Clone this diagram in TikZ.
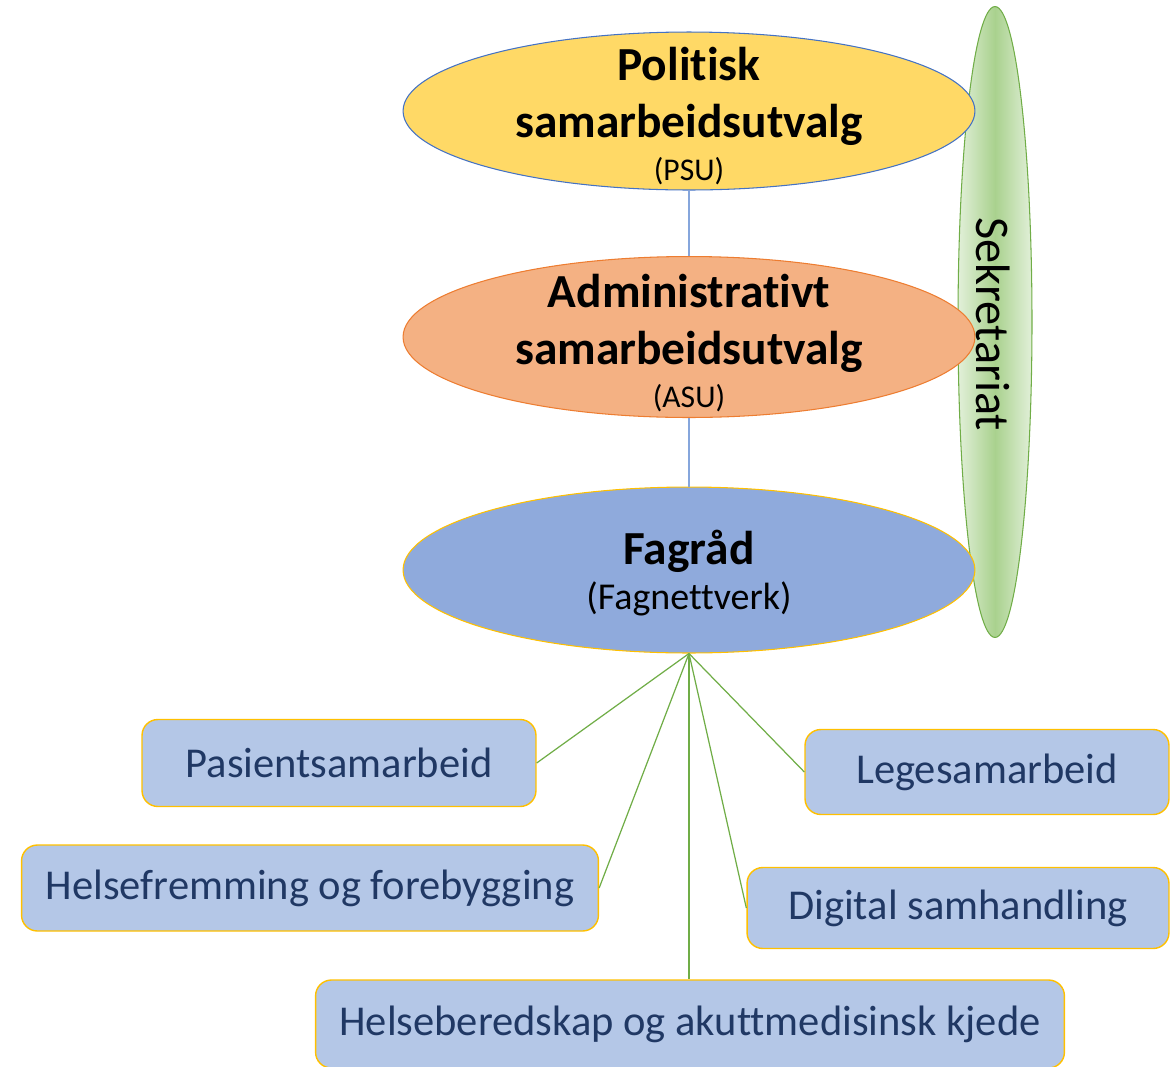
\documentclass[tikz,border=0pt]{standalone}
\usepackage{fontspec}
\setmainfont{Carlito}[Ligatures=NoCommon]
\usetikzlibrary{shapes.geometric}
\definecolor{psuyellow}{HTML}{FFD966}
\definecolor{psuline}{HTML}{4472C4}
\definecolor{linkblue}{HTML}{86A6DC}
\definecolor{asuorange}{HTML}{F4B183}
\definecolor{asuline}{HTML}{ED7D31}
\definecolor{fagblue}{HTML}{8FAADC}
\definecolor{goldline}{HTML}{FFC000}
\definecolor{boxblue}{HTML}{B4C7E7}
\definecolor{boxtext}{HTML}{203864}
\definecolor{sekgreen}{HTML}{A9D18E}
\definecolor{seklight}{HTML}{E2F0D9}
\definecolor{sekline}{HTML}{70AD47}
\newcommand{\shortname}{\fontsize{18}{24}\mdseries\selectfont}
\begin{document}
\begin{tikzpicture}[x=0.02cm, y=-0.02cm,
  council/.style = {ellipse, inner sep=0pt, minimum width=11.44cm, line width=0.6pt},
  councillabel/.style = {align=center, inner sep=0pt, font=\fontsize{27}{32.4}\selectfont\bfseries},
  groupbox/.style = {rectangle, rounded corners=9pt, draw=goldline, fill=boxblue, line width=0.8pt,
    text=boxtext, font=\fontsize{24.2}{28}\selectfont, inner sep=0pt},
  tie/.style = {sekline, line width=0.7pt}]
\useasboundingbox (0,0) rectangle (1174,1066);
% secretariat behind the councils
\node[ellipse, draw=sekline, line width=0.6pt, left color=seklight, right color=seklight, middle color=sekgreen,
  minimum width=1.48cm, minimum height=12.62cm, inner sep=0pt] (sek) at (995,322) {};
\node[rotate=-90, font=\fontsize{27.5}{30}\selectfont] (sektext) at (993,324) {Sekretariat};
% councils
\node[council, draw=psuline, fill=psuyellow, minimum height=3.16cm] (psu) at (689,111) {};
\node[councillabel] (psutext) at (689,116) {Politisk\\ samarbeidsutvalg\\[-8pt] \shortname (PSU)};
\node[council, draw=asuline, fill=asuorange, minimum height=3.22cm] (asu) at (689,337) {};
\node[councillabel] (asutext) at (689,343) {Administrativt\\ samarbeidsutvalg\\[-8pt] \shortname (ASU)};
\node[council, draw=goldline, fill=fagblue, minimum height=3.32cm] (fag) at (689,570) {};
\node[councillabel] (fagtext) at (689,573) {Fagråd\\[-7pt] \fontsize{21.6}{26}\mdseries\selectfont (Fagnettverk)};
% links between councils
\draw[linkblue, line width=0.6pt] (psu.south) -- (asu.north);
\draw[linkblue, line width=0.6pt] (asu.south) -- (fag.north);
% professional groups
\node[groupbox, minimum width=7.88cm, minimum height=1.74cm] (pas) at (339,763) {Pasientsamarbeid};
\node[groupbox, minimum width=11.54cm, minimum height=1.72cm] (hfr) at (310,888) {Helsefremming og forebygging};
\node[groupbox, minimum width=14.98cm, minimum height=1.76cm] (hbe) at (690,1024) {Helseberedskap og akuttmedisinsk kjede};
\node[groupbox, minimum width=7.28cm, minimum height=1.70cm] (leg) at (987,772) {Legesamarbeid};
\node[groupbox, minimum width=8.44cm, minimum height=1.62cm] (dig) at (958,908) {Digital samhandling};
% links to groups
\draw[tie] (fag.south) -- (pas.east);
\draw[tie] (fag.south) -- (hfr.east);
\draw[tie] (fag.south) -- (hbe.north -| fag.south);
\draw[tie] (fag.south) -- (leg.west);
\draw[tie] (fag.south) -- (dig.west);
\end{tikzpicture}
\end{document}
